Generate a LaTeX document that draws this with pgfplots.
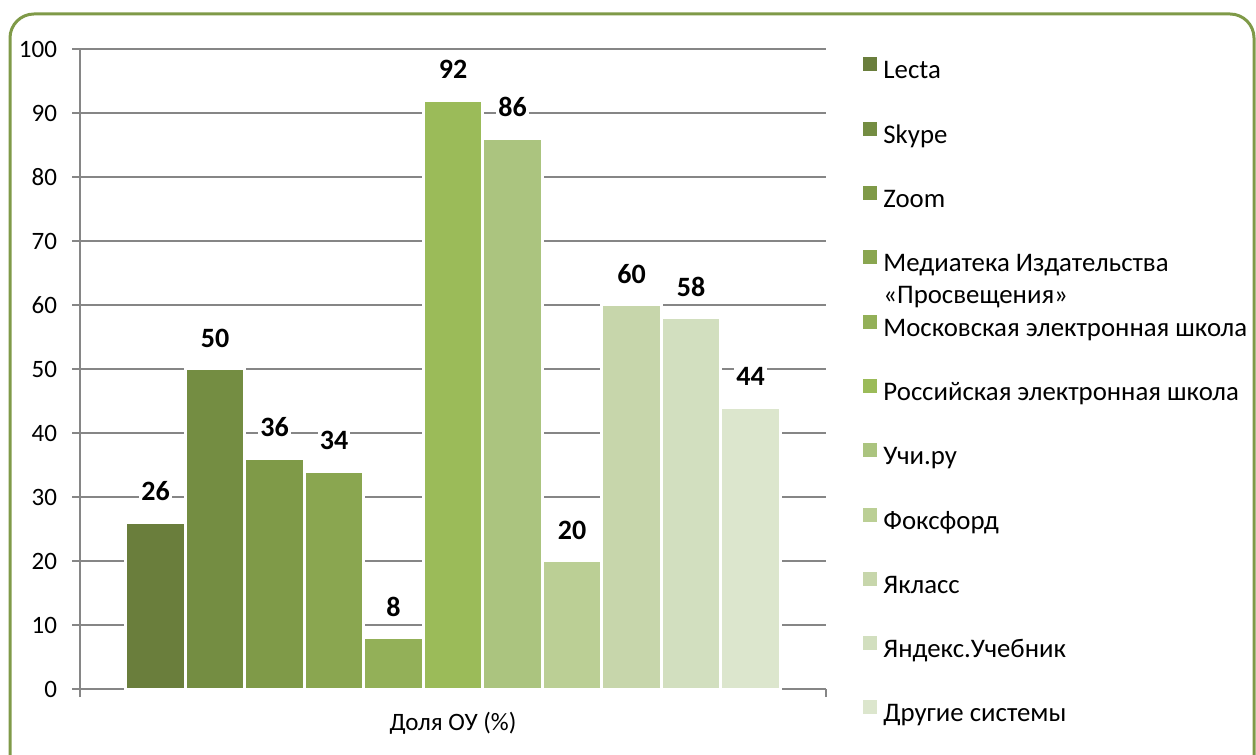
\documentclass[border=0pt]{standalone}
\usepackage{fontspec}
\setmainfont{Carlito}
\usepackage{pgfplots}
\pgfplotsset{compat=1.18}
\definecolor{c1}{HTML}{6A7E3C}
\definecolor{c2}{HTML}{748D42}
\definecolor{c3}{HTML}{7F9A48}
\definecolor{c4}{HTML}{8AA650}
\definecolor{c5}{HTML}{93B058}
\definecolor{c6}{HTML}{9BBB59}
\definecolor{c7}{HTML}{ABC47F}
\definecolor{c8}{HTML}{BBCF95}
\definecolor{c9}{HTML}{C7D6AB}
\definecolor{c10}{HTML}{D2DFBF}
\definecolor{c11}{HTML}{DCE6CD}
\definecolor{gridc}{HTML}{868686}
\definecolor{framec}{HTML}{7F9A48}
\begin{document}
\begin{tikzpicture}[font=\fontsize{12.5}{16}\selectfont]
\useasboundingbox (-40pt,-32.5pt) rectangle (588pt,344.5pt);
\draw[framec, line width=1.5pt, rounded corners=12pt] (-35pt,-60pt) rectangle (587pt,337.5pt);
\begin{axis}[
  at={(0pt,0pt)}, anchor=south west,
  scale only axis, width=373pt, height=320pt,
  ymin=0, ymax=100, ytick={0,10,...,100},
  xmin=-1, xmax=1,
  ybar=0pt, bar width=29.75pt,
  axis x line*=bottom, axis y line*=left,
  axis line style={gridc, line width=0.6pt},
  x axis line style={line width=1.2pt},
  ymajorgrids, grid style={gridc, line width=0.6pt},
  tick align=outside, major tick length=4pt,
  ytick style={gridc, line width=0.6pt},
  xtick={0}, xticklabels={Доля ОУ (\%)},
  xtick style={draw=none},
  extra x ticks={-1,1}, extra x tick labels={},
  extra x tick style={xtick style={draw=gridc, line width=0.6pt}},
  xticklabel style={yshift=-4pt},
  yticklabel style={xshift=-4pt},
  /pgf/number format/assume math mode=true,
  clip=false,
  nodes near coords,
  every node near coord/.append style={font=\fontsize{14}{16}\selectfont\bfseries, anchor=south, yshift=9pt, fill=white, inner sep=1pt, text=black},
  legend image code/.code={\fill[#1,draw=none] (0pt,0.5pt) rectangle (7pt,7.5pt);},
  legend style={at={(1,1)}, anchor=north west, xshift=18.5pt, yshift=-4pt,
    draw=none, fill=none, inner sep=0pt, row sep=18.4pt,
    font=\fontsize{13.4}{16}\selectfont,
    nodes={inner sep=0pt, text height=9.5pt, text depth=3pt},
    /tikz/every odd column/.append style={column sep=3pt}},
  legend cell align=left,
]
\addplot[fill=c1, draw=white, line width=1.5pt] coordinates {(0,26)};
\addplot[fill=c2, draw=white, line width=1.5pt] coordinates {(0,50)};
\addplot[fill=c3, draw=white, line width=1.5pt] coordinates {(0,36)};
\addplot[fill=c4, draw=white, line width=1.5pt] coordinates {(0,34)};
\addplot[fill=c5, draw=white, line width=1.5pt] coordinates {(0,8)};
\addplot[fill=c6, draw=white, line width=1.5pt] coordinates {(0,92)};
\addplot[fill=c7, draw=white, line width=1.5pt] coordinates {(0,86)};
\addplot[fill=c8, draw=white, line width=1.5pt] coordinates {(0,20)};
\addplot[fill=c9, draw=white, line width=1.5pt] coordinates {(0,60)};
\addplot[fill=c10, draw=white, line width=1.5pt] coordinates {(0,58)};
\addplot[fill=c11, draw=white, line width=1.5pt] coordinates {(0,44)};
\legend{Lecta, Skype, Zoom, {\begin{tabular}[t]{@{}l@{}}Медиатека Издательства\\«Просвещения»\end{tabular}}, Московская электронная школа, Российская электронная школа, Учи.ру, Фоксфорд, Якласс, Яндекс.Учебник, Другие системы}
\end{axis}
\end{tikzpicture}
\end{document}
